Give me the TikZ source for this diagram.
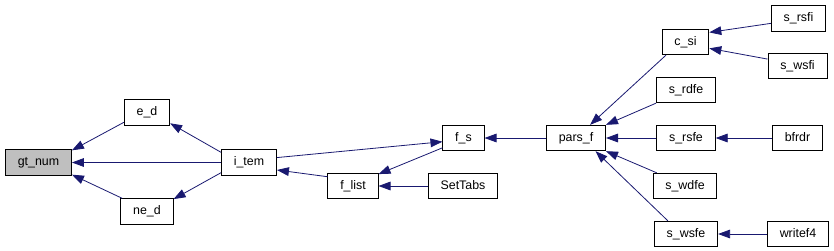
\documentclass[tikz,border=0pt]{standalone}
\usepackage{fontspec}
\setmainfont{Liberation Sans}
\usetikzlibrary{arrows.meta}
\definecolor{edgeblue}{HTML}{191970}
\begin{document}
\begin{tikzpicture}[x=0.75pt, y=-0.75pt,
    fn/.style={draw, fill=white, line width=0.75pt, minimum height=19pt,
      inner xsep=9.2pt, text height=6.8pt, text depth=2.2pt,
      font=\fontsize{9.3}{11}\selectfont},
    cur/.style={fn, fill=black!25},
    call/.style={-{Triangle[length=9pt,width=6.5pt]}, edgeblue, line width=0.6pt}]
    \useasboundingbox (0,0) rectangle (834,250);

    % functions
    \node[cur] (gt_num) at (38.5,162.5) {gt\_num};
    \node[fn] (e_d) at (147,112.5) {e\_d};
    \node[fn] (ne_d) at (147,211.5) {ne\_d};
    \node[fn] (i_tem) at (249,162.5) {i\_tem};
    \node[fn] (f_s) at (463.5,138) {f\_s};
    \node[fn] (f_list) at (353,186) {f\_list};
    \node[fn] (SetTabs) at (463,186) {SetTabs};
    \node[fn] (pars_f) at (576,138) {pars\_f};
    \node[fn] (c_si) at (685.5,42) {c\_si};
    \node[fn] (s_rdfe) at (686,90) {s\_rdfe};
    \node[fn] (s_rsfe) at (686,138) {s\_rsfe};
    \node[fn] (s_wdfe) at (685,186) {s\_wdfe};
    \node[fn] (s_wsfe) at (686,234) {s\_wsfe};
    \node[fn] (s_rsfi) at (798.5,18.5) {s\_rsfi};
    \node[fn] (s_wsfi) at (797.5,66) {s\_wsfi};
    \node[fn] (bfrdr) at (797.5,138) {bfrdr};
    \node[fn] (writef4) at (798,234) {writef4};

    % calls
    \draw[call] (e_d.203) -- (gt_num.20);
    \draw[call] (i_tem.west) -- (gt_num.east);
    \draw[call] (ne_d.152) -- (gt_num.-20);
    \draw[call] (i_tem.160) -- (e_d.-25);
    \draw[call] (i_tem.-160) -- (ne_d.25);
    \draw[call] (i_tem.10) -- (f_s.190);
    \draw[call] (f_list.160) -- (i_tem.-15);
    \draw[call] (f_s.-155) -- (f_list.25);
    \draw[call] (SetTabs.west) -- (f_list.east);
    \draw[call] (pars_f.west) -- (f_s.east);
    \draw[call] (c_si.-146) -- (pars_f.43);
    \draw[call] (s_rdfe.south west) -- (pars_f.north east);
    \draw[call] (s_rsfe.west) -- (pars_f.east);
    \draw[call] (s_wdfe.155) -- (pars_f.south east);
    \draw[call] (s_wsfe.144) -- (pars_f.-34);
    \draw[call] (s_rsfi.190) -- (c_si.22);
    \draw[call] (s_wsfi.167) -- (c_si.-15);
    \draw[call] (bfrdr.west) -- (s_rsfe.east);
    \draw[call] (writef4.west) -- (s_wsfe.east);
\end{tikzpicture}
\end{document}
